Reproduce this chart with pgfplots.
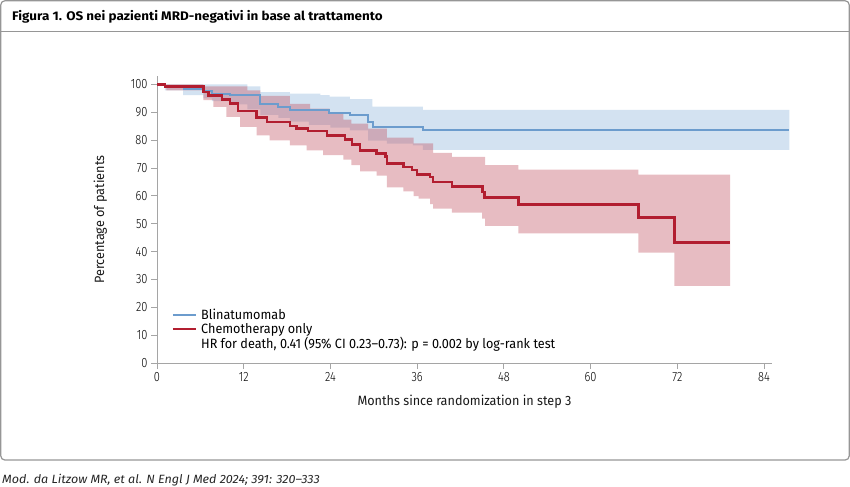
\documentclass[border=0pt]{standalone}
\usepackage{fontspec}
\setmainfont{Fira Sans}
\newfontfamily\condtitle{Fira Sans}[FakeStretch=1.08]
\newfontfamily\condcap{Fira Sans}[FakeStretch=1.05]
\newfontfamily\cond{Fira Sans}[FakeStretch=0.94]
\newfontfamily\condlight{Fira Sans Light}[FakeStretch=0.82]
\usepackage{pgfplots}
\usepackage{pgfplotstable}
\pgfplotsset{compat=1.18}

\definecolor{bline}{RGB}{108,156,205}
\definecolor{bband}{RGB}{211,226,241}
\definecolor{rline}{RGB}{178,30,48}
\definecolor{rband}{RGB}{195,88,102}
\definecolor{axgray}{RGB}{165,165,165}
\definecolor{framegray}{RGB}{150,150,150}

% survival curves (step starts at m, value v)
\pgfplotstableread{
m v
0 100
1.1 99.3
3.8 98.3
6.4 97.6
7.6 96.7
10.1 96.1
14.3 93.1
16.8 91.9
18.4 90.9
23.8 89.8
26.7 89.1
29.2 86.6
29.9 84.8
36.8 83.6
87.5 83.6
}\blina

\pgfplotstableread{
m v
0 100
1.1 99.3
6.4 97.3
7.1 96.1
9.0 94.5
10.1 93.1
11.2 90.5
13.8 88.1
15.2 86.5
18.4 85.1
19.3 84.1
20.9 83.2
23.5 81.7
26.0 80.2
27.0 78.4
28.1 76.3
30.4 75.2
31.6 74.2
31.8 71.6
34.1 70.4
35.3 69.2
36.0 67.7
37.8 66.8
38.2 65.0
40.8 63.4
45.0 61.4
45.3 59.4
50.0 56.9
66.6 52.2
71.6 43.3
79.3 43.3
}\chemo

% 95% CI bands: upper limit left to right, then lower limit right to left
\pgfplotstableread{
m v
0 100
12.5 99.3
14.3 97.2
18.4 96.7
22.6 96.1
23.9 95.6
26.7 94.7
29.8 92.0
36.8 90.8
87.5 90.8
87.5 76.5
36.8 78.1
35.4 78.7
31.8 79.8
29.2 83.5
26.7 84.5
24.0 85.5
21.0 86.6
18.4 88.0
16.8 89.0
14.3 91.0
12.5 92.8
10.0 94.0
7.6 95.0
6.4 96.1
3.6 97.8
1.1 100
0 100
}\blinaband

\pgfplotstableread{
m v
0 100
6.4 99.3
12.5 97.8
14.3 95.9
18.4 93.0
21.2 91.3
23.9 89.5
25.8 87.3
26.9 85.9
29.2 84.1
31.8 80.9
35.5 78.8
38.2 75.4
40.8 74.0
45.4 71.0
50.0 69.4
66.6 67.6
79.3 67.6
79.3 27.7
71.6 39.6
66.6 46.5
50.0 49.2
45.4 51.8
45.0 54.0
40.8 55.4
38.2 57.0
37.8 59.0
36.2 59.9
35.5 61.6
34.1 63.0
31.8 67.2
30.4 68.8
28.1 71.0
26.9 73.0
25.8 74.6
23.0 76.3
20.7 78.1
18.4 79.9
15.6 81.7
13.8 84.7
11.5 88.3
9.6 91.9
7.8 94.3
6.4 97.8
1.3 100
0 100
}\chemoband

\begin{document}
\begin{tikzpicture}[x=1bp,y=1bp]
\path[use as bounding box] (0,0) rectangle (850,487);
\draw[framegray, line width=1.2bp, rounded corners=4bp] (0.8,27) rectangle (849.2,486.2);
\draw[framegray, line width=1bp] (0.8,455) -- (849.2,455);
\node[anchor=base west, inner sep=0, font=\condtitle\bfseries\fontsize{12.5}{14}\selectfont] at (12,466.3) {Figura 1. OS nei pazienti MRD-negativi in base al trattamento};
\node[anchor=base west, inner sep=0, font=\condcap\itshape\fontsize{12}{14}\selectfont, text=black!85] at (2,3.7) {Mod. da Litzow MR, et al. N Engl J Med 2024; 391: 320–333};

\begin{axis}[
  at={(157bp,124bp)}, anchor=south west,
  scale only axis, width=615bp, height=287bp,
  xmin=0, xmax=85.1, ymin=0, ymax=103,
  axis x line*=bottom, axis y line*=left,
  axis line style={axgray, line width=0.8bp, -},
  xtick={0,12,...,84}, ytick={0,10,...,100},
  tick style={axgray, line width=0.8bp},
  tick align=outside, major tick length=6bp,
  ticklabel style={font=\condlight\fontsize{13.5}{15}\selectfont, text=black},
  /pgf/number format/assume math mode=true,
  xlabel={Months since randomization in step 3},
  ylabel={Percentage of patients},
  xlabel shift=6bp, ylabel shift=17bp,
  label style={font=\cond\fontsize{13.5}{15}\selectfont, text=black!90},
  clip=false,
  legend cell align=left,
  legend style={draw=none, fill=none, at={(rel axis cs:0.024,0.196)}, anchor=north west,
    inner xsep=0pt, inner ysep=0pt, row sep=-1.5bp,
    font=\cond\fontsize{13.5}{15}\selectfont},
  legend image code/.code={\draw[#1, line width=1.8bp] (0bp,0bp) -- (23bp,0bp); \path (25bp,0bp);},
]
\addplot[const plot, draw=none, fill=bband, forget plot] table[x=m,y=v] {\blinaband};
\addplot[const plot, draw=none, fill=rband, fill opacity=0.4, forget plot] table[x=m,y=v] {\chemoband};
\addplot[const plot, bline, line width=2bp] table[x=m,y=v] {\blina};
\addlegendentry{Blinatumomab}
\addplot[const plot, rline, line width=2.6bp] table[x=m,y=v] {\chemo};
\addlegendentry{Chemotherapy only}
\addlegendimage{empty legend}
\addlegendentry{HR for death, 0.41 (95\% CI 0.23–0.73): p = 0.002 by log-rank test}
\end{axis}
\end{tikzpicture}
\end{document}
